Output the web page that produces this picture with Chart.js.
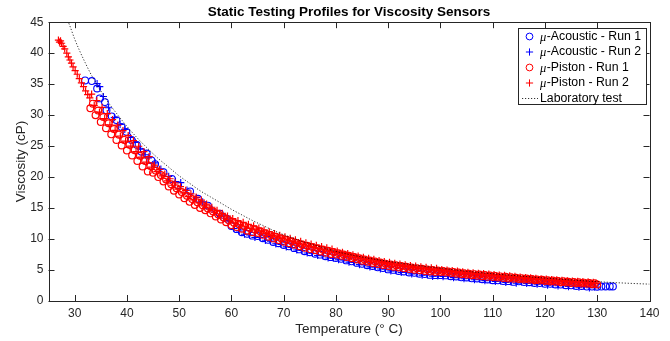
<!DOCTYPE html>
<html><head><meta charset="utf-8">
<script src="https://cdn.jsdelivr.net/npm/chart.js@4.4.1/dist/chart.umd.min.js"></script>
<style>html,body{margin:0;padding:0;background:#fff;}canvas{display:block;}</style>
</head><body>
<canvas id="c" width="670" height="341"></canvas>
<script>
const chartTitle = 'Static Testing Profiles for Viscosity Sensors';
const xTitle = 'Temperature (\u00B0 C)';
const yTitle = 'Viscosity (cP)';
const xTicks = [30,40,50,60,70,80,90,100,110,120,130,140];
const yTicks = [0,5,10,15,20,25,30,35,40,45];
const seriesNames = ['-Acoustic - Run 1','-Acoustic - Run 2','-Piston - Run 1','-Piston - Run 2','Laboratory test'];

const acoustic1T = [32.0,33.3,34.3,34.8,35.8,36.1,37.1,38.0,39.0,39.9,40.9,41.9,42.8,43.8,44.7,45.4,47.0,48.6,49.8,52.1,53.6,55.5,57.8,59.1,
 60,61,62,63,64,65,66,67,68,69,70,71,72,73,74,75,76,77,78,79,80,81,82,83,84,85,86,87,88,89,90,91,92,93,94,95,96,97,98,99,100,
 101,102,103,104,105,106,107,108,109,110,111,112,113,114,115,116,117,118,119,120,121,122,123,124,125,126,127,128,129,130,130.8,131.6,132.4,133];
const acoustic1V = [35.6,35.5,34.3,32.7,32.1,30.8,29.8,29.2,28.1,27.3,26.0,25.2,24.1,23.8,22.7,22.1,20.8,19.7,18.7,17.7,16.5,15.4,14.1,13.3,
 12.1,11.6,11.1,10.85,10.55,10.48,10.13,9.88,9.53,9.33,9.03,8.83,8.53,8.33,8.03,7.88,7.63,7.48,7.23,7.08,6.95,6.8,6.55,6.4,6.15,6.0,5.77,5.65,5.43,5.31,5.1,5.02,4.84,4.77,4.61,4.55,4.4,4.35,4.21,4.17,4.17,
 4.13,4.0,3.96,3.82,3.79,3.66,3.63,3.51,3.48,3.36,3.34,3.22,3.2,3.08,3.17,3.05,3.03,2.91,2.9,2.78,2.77,2.66,2.65,2.54,2.53,2.43,2.43,2.33,2.33,2.31,2.33,2.35,2.35,2.35];

const acoustic2T = [34.3,34.8,35.5,36.5,37.6,38.7,39.6,40.7,41.6,42.6,43.5,44.1,45.4,46.5,48.0,49.3,50.3,51.5,53.3,54.5,56.3,58.0,59.5,
 60.5,61.5,62.5,63.5,64.5,65.5,66.5,67.5,68.5,69.5,70.5,71.5,72.5,73.5,74.5,75.5,76.5,77.5,78.5,79.5,80.5,81.5,82.5,83.5,84.5,85.5,86.5,87.5,88.5,89.5,
 90.5,91.5,92.5,93.5,94.5,95.5,96.5,97.5,98.5,99.5,100.5,101.5,102.5,103.5,104.5,105.5,106.5,107.5,108.5,109.5,110.5,111.5,112.5,113.5,114.5,115.5,
 116.5,117.5,118.5,119.5,120.5,121.5,122.5,123.5,124.5,125.5,126.5,127.5,128.5,129.5];
const acoustic2V = [35.1,34.6,33.0,31.2,29.6,28.5,27.7,26.4,25.6,24.5,23.6,23.1,22.3,21.3,20.1,19.3,19.1,17.9,16.7,16.0,14.8,13.7,13.0,
 11.7,11.3,10.77,10.66,10.25,10.26,9.8,9.66,9.23,9.14,8.73,8.64,8.23,8.14,7.75,7.71,7.35,7.31,6.95,6.91,6.67,6.63,6.27,6.23,5.87,5.84,5.51,5.5,5.17,5.16,
 4.86,4.89,4.6,4.65,4.38,4.43,4.17,4.23,3.99,4.06,3.95,4.02,3.78,3.85,3.6,3.68,3.44,3.53,3.29,3.38,3.15,3.24,3.01,3.1,2.87,3.07,
 2.84,2.93,2.7,2.8,2.57,2.67,2.45,2.55,2.33,2.44,2.23,2.34,2.13,2.24];

const piston1T = [33,33.5,34,34.5,35,35.5,36,36.5,37,37.5,38,38.5,39,39.5,40,40.5,41,41.5,42,42.5,43,43.5,44,44.5,45,45.5,46,46.5,47,47.5,48,48.5,49,49.5,50,50.5,
 51,51.5,52,52.5,53,53.5,54,54.5,55,55.5,56,56.5,57,57.5,58,58.5,59,59.5,60,60.5,61,61.5,62,62.5,63,63.5,64,64.5,65,65.5,66,66.5,67,67.5,68,68.5,69,69.5,70,70.5,
 71,71.5,72,72.5,73,73.5,74,74.5,75,75.5,76,76.5,77,77.5,78,78.5,79,79.5,80,80.5,81,81.5,82,82.5,83,83.5,84,84.5,85,85.5,86,86.5,87,87.5,88,88.5,89,89.5,90,90.5,
 91,91.5,92,92.5,93,93.5,94,94.5,95,95.5,96,96.5,97,97.5,98,98.5,99,99.5,100,100.5,101,101.5,102,102.5,103,103.5,104,104.5,105,105.5,106,106.5,107,107.5,108,108.5,109,109.5,110,110.5,
 111,111.5,112,112.5,113,113.5,114,114.5,115,115.5,116,116.5,117,117.5,118,118.5,119,119.5,120,120.5,121,121.5,122,122.5,123,123.5,124,124.5,125,125.5,126,126.5,127,127.5,128,128.5,129,129.5,130];
const piston1V = [31.1,31.85,30.0,30.75,28.9,29.7,27.9,28.7,26.9,27.75,26.0,26.85,25.1,26.0,24.3,25.2,23.5,24.35,22.6,23.45,21.7,22.6,20.9,21.8,20.7,21.05,20.0,20.35,19.3,19.6,18.5,18.85,17.8,18.2,17.2,17.6,
 16.6,17.0,16.0,16.45,15.5,15.95,15.0,15.45,14.65,14.95,14.15,14.45,13.65,13.95,13.15,13.48,12.7,13.03,12.25,12.65,11.95,12.35,11.65,12.05,11.35,11.78,11.1,11.53,10.98,11.25,10.68,10.95,10.38,10.65,10.08,10.38,9.83,10.13,9.58,9.88,
 9.33,9.63,9.08,9.38,8.83,9.13,8.58,8.9,8.38,8.7,8.18,8.5,7.98,8.3,7.78,8.1,7.58,7.9,7.5,7.7,7.3,7.5,7.1,7.3,6.9,7.1,6.7,6.9,6.5,6.71,6.32,6.54,6.15,6.37,5.98,6.2,5.81,6.03,5.65,5.89,
 5.52,5.76,5.39,5.63,5.27,5.52,5.16,5.41,5.05,5.3,4.95,5.2,4.85,5.1,4.76,5.02,4.67,4.93,4.67,4.84,4.58,4.75,4.5,4.67,4.41,4.58,4.32,4.49,4.24,4.41,4.16,4.33,4.08,4.26,4.01,4.18,3.93,4.11,3.86,4.04,
 3.79,3.97,3.72,3.9,3.65,3.83,3.58,3.76,3.56,3.69,3.49,3.62,3.42,3.55,3.35,3.48,3.29,3.42,3.22,3.35,3.16,3.29,3.1,3.23,3.04,3.17,2.98,3.11,2.92,3.06,2.87,3.01,2.82,2.96,2.77,2.91,2.72,2.86,2.67];

const piston2T = [26.9,27.1,27.3,27.5,27.8,28.1,28.5,28.8,29.1,29.4,29.7,30.1,30.5,30.9,31.3,31.7,32.1,32.5,32.9,
 33.25,33.75,34.25,34.75,35.25,35.75,36.25,36.75,37.25,37.75,38.25,38.75,39.25,39.75,40.25,40.75,41.25,41.75,42.25,42.75,43.25,43.75,44.25,44.75,45.25,45.75,46.25,46.75,47.25,47.75,48.25,48.75,49.25,49.75,50.25,50.75,
 51.25,51.75,52.25,52.75,53.25,53.75,54.25,54.75,55.25,55.75,56.25,56.75,57.25,57.75,58.25,58.75,59.25,59.75,60.25,60.75,61.25,61.75,62.25,62.75,63.25,63.75,64.25,64.75,65.25,65.75,66.25,66.75,67.25,67.75,68.25,68.75,69.25,69.75,70.25,70.75,
 71.25,71.75,72.25,72.75,73.25,73.75,74.25,74.75,75.25,75.75,76.25,76.75,77.25,77.75,78.25,78.75,79.25,79.75,80.25,80.75,81.25,81.75,82.25,82.75,83.25,83.75,84.25,84.75,85.25,85.75,86.25,86.75,87.25,87.75,88.25,88.75,89.25,89.75,90.25,90.75,
 91.25,91.75,92.25,92.75,93.25,93.75,94.25,94.75,95.25,95.75,96.25,96.75,97.25,97.75,98.25,98.75,99.25,99.75,100.25,100.75,101.25,101.75,102.25,102.75,103.25,103.75,104.25,104.75,105.25,105.75,106.25,106.75,107.25,107.75,108.25,108.75,109.25,109.75,110.25,110.75,
 111.25,111.75,112.25,112.75,113.25,113.75,114.25,114.75,115.25,115.75,116.25,116.75,117.25,117.75,118.25,118.75,119.25,119.75,120.25,120.75,121.25,121.75,122.25,122.75,123.25,123.75,124.25,124.75,125.25,125.75,126.25,126.75,127.25,127.75,128.25,128.75,129.25,129.75];
const piston2V = [42.1,41.8,42.0,41.6,41.1,40.7,40.0,39.4,38.9,38.4,37.8,37.2,36.6,35.9,35.2,34.6,33.9,33.3,32.8,
 33.4,31.58,32.33,30.48,31.25,29.45,30.25,28.45,29.28,27.53,28.38,26.63,27.5,25.8,26.7,25.0,25.88,24.13,24.98,23.23,24.1,22.4,23.3,21.6,21.93,20.88,21.23,20.18,20.5,19.4,19.73,18.68,19.05,18.05,18.45,17.45,
 17.85,16.85,17.28,16.33,16.78,15.83,16.28,15.33,15.63,14.83,15.13,14.33,14.63,13.83,14.14,13.36,13.69,12.91,13.28,12.58,12.98,12.28,12.68,11.98,12.39,11.71,12.14,11.46,11.75,11.18,11.45,10.88,11.15,10.58,10.86,10.31,10.61,10.06,10.36,9.81,
 10.11,9.56,9.86,9.31,9.61,9.06,9.37,8.85,9.17,8.65,8.97,8.45,8.77,8.25,8.57,8.05,8.37,7.85,8.05,7.65,7.85,7.45,7.65,7.25,7.45,7.05,7.25,6.85,7.06,6.67,6.88,6.49,6.71,6.32,6.54,6.15,6.37,5.99,6.22,5.85,
 6.09,5.72,5.96,5.6,5.84,5.49,5.73,5.38,5.63,5.28,5.53,5.18,5.43,5.08,5.34,4.99,5.25,4.9,5.07,4.81,4.98,4.73,4.9,4.64,4.81,4.55,4.72,4.47,4.64,4.39,4.56,4.31,4.48,4.24,4.41,4.16,4.33,4.09,4.26,4.02,
 4.19,3.95,4.12,3.88,4.05,3.81,3.98,3.74,3.86,3.67,3.79,3.6,3.72,3.53,3.65,3.47,3.59,3.4,3.52,3.34,3.46,3.28,3.4,3.22,3.34,3.16,3.28,3.1,3.23,3.04,3.18,2.99,3.13,2.94,3.08,2.89,3.03,2.84];

const labT = [28,29,30,31,32,33,34,35,36,37,38,40,42,44,46,48,50,52,54,56,58,60,62,64,66,68,70,72,74,76,78,80,85,90,95,100,105,110,115,120,125,130,135,140];
const labV = [46.6,44.6,42.3,40.3,38.5,36.8,35.3,33.9,32.6,31.4,30.3,28.2,26.3,24.6,23.0,21.6,20.2,19.0,17.8,16.8,15.8,14.8,13.9,13.0,12.2,11.4,10.7,10.1,9.5,9.0,8.5,8.0,7.1,6.4,5.8,5.3,4.8,4.4,4.05,3.7,3.4,3.12,2.9,2.72];

const pts = (T, V) => T.map((t, i) => ({x: t, y: V[i]}));
const FONT = '"Liberation Sans", Arial, Helvetica, sans-serif';
const AXC = '#262626';
const BLUE = '#0000ff', RED = '#ff0000';

const frame = {
  id: 'frame',
  afterDatasetsDraw(chart) {
    const {ctx, chartArea: a, scales: {x, y}} = chart;
    ctx.save();
    ctx.strokeStyle = AXC; ctx.lineWidth = 1;
    ctx.beginPath();
    xTicks.forEach(v => { const p = Math.round(x.getPixelForValue(v)) + 0.5;
      ctx.moveTo(p, a.bottom); ctx.lineTo(p, a.bottom - 6);
      ctx.moveTo(p, a.top); ctx.lineTo(p, a.top + 6); });
    yTicks.forEach(v => { const p = Math.round(y.getPixelForValue(v)) + 0.5;
      ctx.moveTo(a.left, p); ctx.lineTo(a.left + 6, p);
      ctx.moveTo(a.right, p); ctx.lineTo(a.right - 6, p); });
    ctx.stroke();
    ctx.strokeRect(Math.round(a.left) + 0.5, Math.round(a.top) + 0.5, Math.round(a.right - a.left), Math.round(a.bottom - a.top));
    const L = 518.5, T = 28.5, W = 128, H = 76;
    ctx.fillStyle = '#fff'; ctx.fillRect(L, T, W, H);
    ctx.strokeStyle = AXC; ctx.strokeRect(L, T, W, H);
    const rowY = [36.5, 52, 67.5, 83, 98.5];
    const mx = 529.5, tx = 540;
    ctx.lineWidth = 1;
    ctx.strokeStyle = BLUE; ctx.beginPath(); ctx.arc(mx, rowY[0], 3.4, 0, Math.PI * 2); ctx.stroke();
    ctx.beginPath(); ctx.moveTo(mx - 3.6, rowY[1]); ctx.lineTo(mx + 3.6, rowY[1]); ctx.moveTo(mx, rowY[1] - 3.6); ctx.lineTo(mx, rowY[1] + 3.6); ctx.stroke();
    ctx.strokeStyle = RED; ctx.beginPath(); ctx.arc(mx, rowY[2], 3.4, 0, Math.PI * 2); ctx.stroke();
    ctx.beginPath(); ctx.moveTo(mx - 3.6, rowY[3]); ctx.lineTo(mx + 3.6, rowY[3]); ctx.moveTo(mx, rowY[3] - 3.6); ctx.lineTo(mx, rowY[3] + 3.6); ctx.stroke();
    ctx.strokeStyle = '#000'; ctx.lineWidth = 0.8; ctx.setLineDash([1.2, 1.8]);
    ctx.beginPath(); ctx.moveTo(522, rowY[4]); ctx.lineTo(538, rowY[4]); ctx.stroke();
    ctx.setLineDash([]);
    ctx.fillStyle = '#000'; ctx.textBaseline = 'middle'; ctx.textAlign = 'left';
    seriesNames.forEach((n, i) => {
      let xx = tx;
      if (i < 4) {
        ctx.font = 'italic 12.5px "Liberation Serif", serif';
        ctx.fillText('\u03BC', xx, rowY[i] + 1);
        xx += ctx.measureText('\u03BC').width + 0.5;
      }
      ctx.font = '12.3px ' + FONT;
      ctx.fillText(n, xx, rowY[i]);
    });
    ctx.restore();
  }
};

new Chart(document.getElementById('c'), {
  type: 'scatter',
  data: {
    datasets: [
      {label: 'Laboratory test', data: pts(labT, labV), showLine: true, pointRadius: 0, borderColor: '#000', borderWidth: 0.8, borderDash: [1.2, 1.8], cubicInterpolationMode: 'monotone', order: 0},
      {label: 'Piston Run 2', data: pts(piston2T, piston2V), pointStyle: 'cross', pointRadius: 3.6, borderColor: RED, backgroundColor: RED, borderWidth: 1.2, order: 1},
      {label: 'Piston Run 1', data: pts(piston1T, piston1V), pointStyle: 'circle', pointRadius: 3.4, borderColor: RED, backgroundColor: 'rgba(0,0,0,0)', borderWidth: 1.2, order: 2},
      {label: 'Acoustic Run 2', data: pts(acoustic2T, acoustic2V), pointStyle: 'cross', pointRadius: 3.6, borderColor: BLUE, backgroundColor: BLUE, borderWidth: 1.1, order: 3},
      {label: 'Acoustic Run 1', data: pts(acoustic1T, acoustic1V), pointStyle: 'circle', pointRadius: 3.4, borderColor: BLUE, backgroundColor: 'rgba(0,0,0,0)', borderWidth: 1.1, order: 4}
    ]
  },
  options: {
    responsive: false, animation: false, devicePixelRatio: 1,
    layout: {padding: {left: 0, right: 20.5, top: 0, bottom: 0}},
    plugins: {
      legend: {display: false}, tooltip: {enabled: false},
      title: {display: true, text: chartTitle, fullSize: false, color: '#000', font: {family: FONT, size: 13.5, weight: 'bold'}, padding: {top: 4, bottom: 2}}
    },
    scales: {
      x: {type: 'linear', min: 25, max: 140,
        afterBuildTicks: s => { s.ticks = xTicks.map(v => ({value: v})); },
        afterFit: s => { s.height = 40; },
        grid: {display: false, drawTicks: false}, border: {display: false},
        ticks: {color: AXC, font: {family: FONT, size: 12}, padding: 5, maxRotation: 0, autoSkip: false},
        title: {display: true, text: xTitle, color: AXC, font: {family: FONT, size: 13.5}, padding: {top: 2, bottom: 4}}
      },
      y: {type: 'linear', min: 0, max: 45,
        afterBuildTicks: s => { s.ticks = yTicks.map(v => ({value: v})); },
        afterFit: s => { s.width = 48.5; },
        grid: {display: false, drawTicks: false}, border: {display: false},
        ticks: {color: AXC, font: {family: FONT, size: 12}, padding: 5, autoSkip: false},
        title: {display: true, text: yTitle, color: AXC, font: {family: FONT, size: 13.5}, padding: {top: 13, bottom: 2}}
      }
    }
  },
  plugins: [frame]
});
</script>
</body></html>
